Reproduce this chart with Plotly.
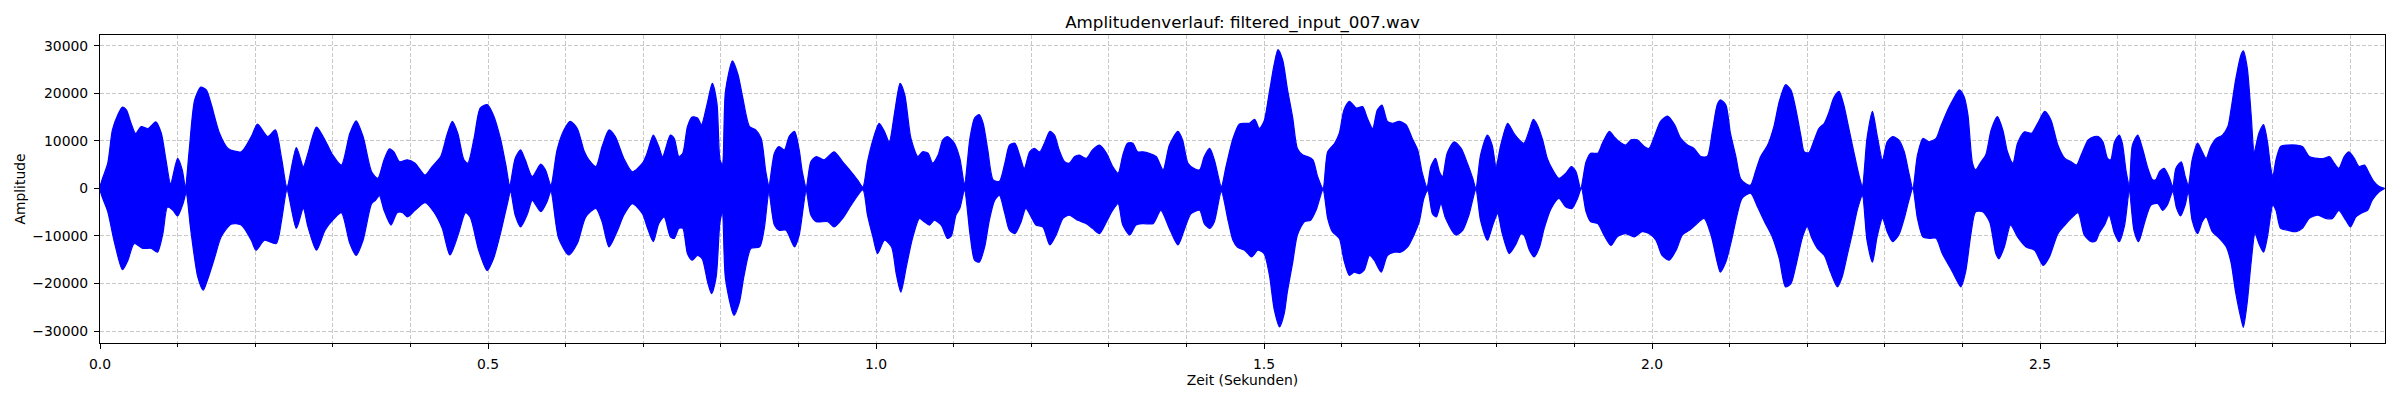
import plotly.graph_objects as go

# ---- Data (envelope of the waveform) ----
t_upper = [0.000, 0.010, 0.016, 0.023, 0.029, 0.034, 0.040, 0.046, 0.053, 0.062, 0.072, 0.079, 0.085, 0.091,
           0.100, 0.106, 0.110, 0.115, 0.122, 0.130, 0.137, 0.143, 0.154, 0.165, 0.182, 0.195, 0.203, 0.216,
           0.226, 0.234, 0.241, 0.253, 0.262, 0.268, 0.279, 0.292, 0.300, 0.311, 0.322, 0.330, 0.339, 0.350,
           0.358, 0.366, 0.373, 0.379, 0.386, 0.396, 0.406, 0.419, 0.428, 0.439, 0.447, 0.454, 0.461, 0.469,
           0.474, 0.482, 0.490, 0.499, 0.507, 0.516, 0.523, 0.528, 0.535, 0.542, 0.548, 0.557, 0.568, 0.574,
           0.581, 0.589, 0.598, 0.606, 0.615, 0.624, 0.630, 0.639, 0.647, 0.656, 0.664, 0.675, 0.686, 0.699,
           0.705, 0.713, 0.720, 0.725, 0.735, 0.740, 0.746, 0.751, 0.757, 0.763, 0.770, 0.775, 0.783, 0.789,
           0.795, 0.799, 0.802, 0.806, 0.815, 0.822, 0.828, 0.837, 0.845, 0.852, 0.858, 0.862, 0.869, 0.875,
           0.882, 0.888, 0.895, 0.901, 0.905, 0.910, 0.916, 0.923, 0.933, 0.946, 0.957, 0.968, 0.976, 0.983,
           0.989, 0.996, 1.004, 1.011, 1.017, 1.024, 1.031, 1.037, 1.045, 1.054, 1.060, 1.067, 1.073, 1.080,
           1.086, 1.092, 1.101, 1.108, 1.114, 1.121, 1.127, 1.133, 1.138, 1.144, 1.151, 1.159, 1.166, 1.172,
           1.179, 1.185, 1.191, 1.198, 1.204, 1.211, 1.217, 1.224, 1.230, 1.236, 1.243, 1.249, 1.256, 1.262,
           1.271, 1.279, 1.288, 1.297, 1.305, 1.312, 1.318, 1.324, 1.331, 1.337, 1.344, 1.352, 1.361, 1.370,
           1.378, 1.389, 1.395, 1.402, 1.410, 1.417, 1.423, 1.430, 1.436, 1.445, 1.451, 1.460, 1.468, 1.475,
           1.481, 1.488, 1.494, 1.500, 1.507, 1.513, 1.518, 1.524, 1.530, 1.537, 1.543, 1.550, 1.556, 1.563,
           1.569, 1.576, 1.582, 1.591, 1.597, 1.603, 1.610, 1.619, 1.627, 1.633, 1.640, 1.646, 1.652, 1.659,
           1.666, 1.674, 1.683, 1.691, 1.698, 1.704, 1.710, 1.715, 1.721, 1.726, 1.730, 1.736, 1.745, 1.754,
           1.762, 1.769, 1.773, 1.779, 1.788, 1.794, 1.799, 1.805, 1.814, 1.822, 1.829, 1.835, 1.842, 1.847,
           1.852, 1.859, 1.865, 1.872, 1.880, 1.889, 1.896, 1.902, 1.908, 1.915, 1.921, 1.930, 1.936, 1.945,
           1.951, 1.958, 1.966, 1.973, 1.981, 1.990, 1.996, 2.003, 2.011, 2.020, 2.029, 2.037, 2.046, 2.054,
           2.063, 2.071, 2.078, 2.084, 2.088, 2.095, 2.101, 2.108, 2.114, 2.121, 2.127, 2.134, 2.140, 2.149,
           2.157, 2.164, 2.172, 2.179, 2.185, 2.192, 2.196, 2.202, 2.209, 2.215, 2.222, 2.228, 2.234, 2.241,
           2.247, 2.254, 2.260, 2.267, 2.271, 2.277, 2.284, 2.290, 2.297, 2.303, 2.310, 2.318, 2.325, 2.331,
           2.336, 2.342, 2.349, 2.357, 2.366, 2.372, 2.381, 2.389, 2.396, 2.402, 2.407, 2.413, 2.417, 2.424,
           2.430, 2.437, 2.445, 2.452, 2.458, 2.465, 2.471, 2.480, 2.489, 2.497, 2.506, 2.514, 2.523, 2.532,
           2.540, 2.547, 2.553, 2.562, 2.570, 2.575, 2.581, 2.587, 2.591, 2.596, 2.602, 2.606, 2.611, 2.615,
           2.619, 2.626, 2.632, 2.639, 2.645, 2.649, 2.654, 2.660, 2.667, 2.671, 2.675, 2.682, 2.687, 2.691,
           2.696, 2.703, 2.709, 2.714, 2.720, 2.727, 2.735, 2.742, 2.746, 2.752, 2.759, 2.762, 2.767, 2.772,
           2.776, 2.782, 2.788, 2.793, 2.797, 2.800, 2.804, 2.810, 2.819, 2.830, 2.838, 2.847, 2.858, 2.866,
           2.873, 2.879, 2.885, 2.892, 2.898, 2.905, 2.911, 2.918, 2.924, 2.930, 2.937, 2.944]
amp_upper = [0, 5300, 12300, 15500, 17100, 16500, 13700, 11500, 13000, 12600, 14000, 11600, 6000, 1000,
             6300, 3900, 300, 8100, 18600, 21300, 20700, 17900, 11600, 8400, 7700, 10900, 13500, 10900,
             12300, 6300, 300, 8600, 4600, 7400, 12900, 9500, 7000, 4900, 11600, 14200, 10900, 3500,
             2100, 6000, 8300, 7600, 5600, 6000, 5300, 2800, 4600, 6700, 11200, 14100, 11600, 6000,
             5300, 10500, 16900, 17600, 15400, 10500, 4900, 700, 6300, 8100, 6000, 2500, 5100, 3900,
             700, 8100, 12300, 14100, 12600, 7800, 6000, 4600, 8800, 12300, 10900, 6300, 3500, 5300,
             7400, 11200, 8800, 6700, 11200, 10500, 6700, 7400, 13000, 15000, 14800, 13400, 18200, 22100,
             17900, 6000, 5000, 20400, 26800, 24000, 19300, 13000, 12300, 10500, 3500, 700, 7400, 8800,
             8100, 10900, 12000, 8100, 3500, 300, 5600, 6700, 6000, 7700, 5600, 3500, 1800, 300,
             5600, 10200, 13700, 11900, 9800, 16000, 22100, 19700, 10500, 6700, 7700, 7400, 5300, 7000,
             10200, 10900, 9500, 6300, 1000, 10500, 14800, 15500, 13700, 8100, 1800, 1500, 5300, 9100,
             9500, 7000, 4200, 7700, 8400, 7700, 9500, 12000, 11200, 8100, 5600, 5300, 6700, 7000,
             6300, 8100, 9100, 7400, 4600, 3200, 7000, 9500, 9500, 7700, 7700, 7400, 6700, 3900,
             9100, 12000, 10200, 5300, 4200, 3900, 6700, 8400, 6000, 400, 4600, 10500, 13500, 13700,
             13700, 14500, 12600, 14100, 20400, 26000, 29200, 27000, 21000, 14800, 8400, 7000, 6700, 6000,
             2500, 0, 7700, 9500, 11600, 16500, 18300, 16900, 17200, 14800, 12600, 16500, 17500, 14100,
             13700, 14100, 13400, 10500, 8100, 3200, 300, 4600, 6300, 3500, 2500, 7400, 9800, 8400,
             5300, 2100, 0, 7000, 11200, 9100, 4600, 9100, 13700, 11600, 10200, 9500, 12300, 14500,
             13400, 10200, 6300, 3900, 2100, 3200, 4600, 3500, 0, 5600, 7400, 7400, 9500, 12000,
             10900, 9800, 9100, 10200, 10200, 8800, 8400, 10900, 14100, 15200, 13400, 10500, 9100, 8400,
             6700, 6700, 12300, 17600, 18600, 17600, 11600, 6700, 2100, 1000, 700, 3900, 6700, 9100,
             13000, 18300, 21800, 20700, 16900, 10900, 7700, 7500, 10200, 12600, 13700, 16000, 19000, 20400,
             17600, 12300, 7700, 2500, 500, 10500, 16200, 11200, 6000, 9800, 10900, 10200, 7700, 3200,
             0, 7000, 10500, 9800, 10500, 13000, 16500, 19000, 20700, 19300, 15500, 5300, 3900, 5600,
             7000, 12300, 15100, 12300, 7700, 5300, 9500, 11900, 11600, 13700, 16200, 14400, 9100, 6300,
             5600, 4900, 7000, 10200, 10900, 10900, 9800, 6300, 6000, 9800, 11200, 9500, 3500, 700,
             9100, 11200, 8400, 4200, 1800, 1800, 3500, 4200, 2100, 300, 4200, 5600, 2500, 700,
             6000, 9500, 7700, 6300, 8800, 10500, 11200, 13000, 16500, 22800, 28100, 28900, 25300, 15500,
             7700, 11600, 13400, 9800, 4600, 2500, 6000, 8800, 9100, 9100, 8800, 6700, 6300, 6300,
             6700, 5300, 4200, 6700, 7700, 6300, 4600, 4900, 3200, 1500, 400, 0]

t_lower = [0.000, 0.010, 0.019, 0.029, 0.036, 0.044, 0.055, 0.066, 0.074, 0.081, 0.087, 0.094, 0.100, 0.107,
           0.111, 0.117, 0.126, 0.133, 0.139, 0.148, 0.156, 0.169, 0.182, 0.195, 0.201, 0.212, 0.227, 0.234,
           0.241, 0.253, 0.262, 0.268, 0.279, 0.290, 0.302, 0.311, 0.322, 0.330, 0.339, 0.350, 0.355, 0.360,
           0.366, 0.375, 0.383, 0.390, 0.396, 0.406, 0.419, 0.430, 0.441, 0.451, 0.462, 0.471, 0.477, 0.488,
           0.499, 0.507, 0.516, 0.525, 0.529, 0.535, 0.542, 0.551, 0.557, 0.568, 0.576, 0.581, 0.591, 0.604,
           0.615, 0.626, 0.639, 0.647, 0.656, 0.667, 0.675, 0.686, 0.699, 0.705, 0.713, 0.720, 0.727, 0.735,
           0.740, 0.746, 0.751, 0.757, 0.763, 0.770, 0.776, 0.783, 0.788, 0.794, 0.799, 0.802, 0.806, 0.817,
           0.824, 0.830, 0.839, 0.850, 0.856, 0.862, 0.869, 0.875, 0.884, 0.895, 0.901, 0.910, 0.916, 0.923,
           0.938, 0.946, 0.957, 0.968, 0.983, 0.989, 0.996, 1.002, 1.011, 1.020, 1.026, 1.032, 1.039, 1.047,
           1.056, 1.062, 1.069, 1.075, 1.084, 1.092, 1.097, 1.103, 1.108, 1.114, 1.121, 1.127, 1.133, 1.140,
           1.146, 1.153, 1.159, 1.166, 1.172, 1.179, 1.187, 1.193, 1.200, 1.206, 1.215, 1.224, 1.232, 1.241,
           1.249, 1.260, 1.271, 1.279, 1.288, 1.297, 1.305, 1.312, 1.318, 1.327, 1.335, 1.344, 1.357, 1.367,
           1.378, 1.389, 1.397, 1.406, 1.417, 1.423, 1.430, 1.436, 1.445, 1.454, 1.460, 1.466, 1.475, 1.484,
           1.492, 1.500, 1.507, 1.513, 1.520, 1.526, 1.530, 1.537, 1.543, 1.552, 1.560, 1.567, 1.576, 1.582,
           1.588, 1.597, 1.603, 1.610, 1.616, 1.623, 1.629, 1.636, 1.642, 1.651, 1.659, 1.668, 1.676, 1.685,
           1.694, 1.700, 1.706, 1.711, 1.717, 1.722, 1.728, 1.734, 1.747, 1.756, 1.764, 1.773, 1.779, 1.788,
           1.794, 1.801, 1.807, 1.816, 1.824, 1.831, 1.835, 1.842, 1.848, 1.855, 1.861, 1.870, 1.880, 1.889,
           1.897, 1.904, 1.909, 1.915, 1.921, 1.930, 1.938, 1.947, 1.955, 1.966, 1.977, 1.987, 1.996, 2.005,
           2.013, 2.022, 2.031, 2.039, 2.048, 2.056, 2.067, 2.076, 2.084, 2.088, 2.095, 2.103, 2.110, 2.116,
           2.127, 2.136, 2.145, 2.155, 2.164, 2.172, 2.179, 2.185, 2.194, 2.200, 2.206, 2.213, 2.222, 2.230,
           2.239, 2.245, 2.252, 2.258, 2.265, 2.271, 2.277, 2.284, 2.290, 2.297, 2.303, 2.310, 2.318, 2.325,
           2.331, 2.336, 2.342, 2.349, 2.357, 2.366, 2.374, 2.385, 2.394, 2.398, 2.404, 2.411, 2.417, 2.426,
           2.435, 2.443, 2.447, 2.454, 2.462, 2.471, 2.482, 2.493, 2.504, 2.512, 2.523, 2.532, 2.540, 2.549,
           2.557, 2.566, 2.572, 2.576, 2.583, 2.589, 2.596, 2.602, 2.609, 2.615, 2.621, 2.627, 2.635, 2.643,
           2.652, 2.658, 2.664, 2.671, 2.676, 2.681, 2.687, 2.691, 2.696, 2.703, 2.709, 2.714, 2.722, 2.731,
           2.740, 2.746, 2.752, 2.759, 2.762, 2.767, 2.772, 2.777, 2.782, 2.788, 2.793, 2.800, 2.804, 2.810,
           2.819, 2.830, 2.838, 2.847, 2.858, 2.868, 2.877, 2.885, 2.894, 2.900, 2.907, 2.915, 2.922, 2.928,
           2.937, 2.944]
amp_lower = [0, -4900, -11600, -17100, -15100, -11600, -12600, -12600, -13400, -9500, -3900, -4600, -5800, -3200,
             -1000, -8800, -18600, -21400, -19000, -14400, -10200, -7500, -7700, -10900, -13000, -10900, -11600, -6700,
             -400, -8400, -4200, -8100, -13000, -8800, -6300, -5100, -11600, -14100, -10900, -3200, -2500, -1500,
             -4600, -7700, -5100, -5100, -6000, -4600, -3000, -4900, -8400, -14000, -9500, -5100, -6000, -13000,
             -17300, -14800, -9500, -3200, -700, -5600, -8100, -5300, -2500, -4900, -2800, -700, -10500, -14000,
             -11600, -6000, -4200, -7000, -12300, -8800, -5600, -3200, -5300, -8100, -11200, -7400, -6000, -10200,
             -10500, -8400, -8400, -13700, -15100, -14100, -14800, -19700, -22100, -18600, -7000, -5300, -19000, -26700,
             -23900, -18300, -12600, -12300, -8400, -1000, -7700, -8800, -8800, -12300, -9800, -700, -5600, -7000,
             -7000, -8100, -6300, -3500, -300, -5600, -10200, -13700, -10900, -12300, -17900, -21800, -16500, -10500,
             -6300, -7000, -7700, -6700, -7700, -10500, -10000, -5600, -4200, -400, -9500, -15100, -15500, -12300,
             -6700, -2500, -1500, -5300, -8800, -9500, -7000, -4200, -6000, -7700, -8100, -11900, -9800, -6300,
             -5600, -6700, -7400, -8400, -9500, -7000, -4600, -3200, -7700, -9800, -7700, -7400, -7400, -4600,
             -8400, -11900, -8800, -5300, -4600, -7400, -8400, -7000, -700, -7000, -10900, -12400, -13000, -14400,
             -13000, -13700, -18300, -25300, -29100, -26300, -21800, -15500, -9800, -7000, -6700, -4600, -300, -6300,
             -9100, -10500, -15100, -18300, -17600, -17900, -17200, -14100, -15100, -17600, -14100, -13400, -13400, -12300,
             -9500, -7000, -2100, -500, -5300, -6000, -3200, -6300, -9800, -8800, -5600, -300, -6700, -10900,
             -8100, -5300, -9500, -13700, -11900, -9600, -9800, -13000, -14400, -12300, -8400, -4200, -2100, -3900,
             -4200, -2100, 0, -4900, -7000, -7400, -9800, -12000, -10200, -9500, -10200, -9100, -9500, -10900,
             -14100, -15100, -13000, -9800, -8800, -7700, -6300, -9800, -15500, -17600, -15500, -10500, -5300, -2100,
             -1000, -3900, -7000, -10200, -14800, -20700, -20000, -16500, -10200, -8000, -10500, -12600, -14100, -17600,
             -20700, -18600, -13700, -9500, -4200, -1500, -10900, -15500, -10200, -6300, -9100, -11200, -9800, -6300,
             -2500, 0, -6300, -10200, -10500, -10500, -13700, -16900, -19700, -20700, -17600, -9500, -4900, -4900,
             -7000, -13700, -14800, -12300, -7700, -10200, -12300, -13000, -16200, -14400, -9500, -7700, -6300, -5100,
             -9800, -11200, -11000, -9500, -7700, -5600, -9500, -11200, -7700, -700, -8800, -11200, -7000, -3500,
             -3200, -4600, -3500, -700, -4200, -5800, -3500, -700, -6700, -9500, -7000, -6000, -9100, -10500,
             -12300, -15500, -21800, -27400, -29200, -23900, -15500, -9500, -11600, -13400, -10200, -3500, -4600, -8400,
             -8800, -9100, -8400, -6300, -5600, -6300, -6300, -4600, -6700, -8100, -6000, -5100, -4600, -2500,
             -700, 0]

x_tick_vals = [0.0, 0.5, 1.0, 1.5, 2.0, 2.5]
x_tick_text = ["0.0", "0.5", "1.0", "1.5", "2.0", "2.5"]
y_tick_vals = [-30000, -20000, -10000, 0, 10000, 20000, 30000]
y_tick_text = ["\u221230000", "\u221220000", "\u221210000", "0", "10000", "20000", "30000"]

title_text = "Amplitudenverlauf: filtered_input_007.wav"
x_label = "Zeit (Sekunden)"
y_label = "Amplitude"

# ---- Figure ----
poly_x = t_upper + t_lower[::-1]
poly_y = amp_upper + amp_lower[::-1]

fig = go.Figure()
fig.add_trace(go.Scatter(
    x=poly_x, y=poly_y, mode="lines", fill="toself",
    fillcolor="#0000ff", line=dict(color="#0000ff", width=1.2, shape="spline", smoothing=0.7),
    hoverinfo="skip", showlegend=False,
))

FONT = "DejaVu Sans"
grid_col = "#c8c8c8"

fig.update_layout(
    template="none",
    width=2400, height=400,
    margin=dict(l=100, r=15, t=35, b=57, autoexpand=False),
    paper_bgcolor="white", plot_bgcolor="white",
    font=dict(family=FONT, size=13.9, color="black"),
    title=dict(text=title_text, x=0.5, xref="paper", xanchor="center",
               y=1 - 22 / 400, yref="container", yanchor="middle",
               font=dict(family=FONT, size=16.7, color="black")),
    showlegend=False,
)

fig.update_xaxes(
    automargin=False,
    range=[0, 2.9445], tickmode="array", tickvals=x_tick_vals, ticktext=x_tick_text,
    ticks="outside", ticklen=5, tickwidth=1.1, tickcolor="black",
    showline=True, linecolor="black", linewidth=1.1, mirror=True,
    showgrid=True, gridcolor=grid_col, griddash="4px,2px", gridwidth=1.1,
    zeroline=False,
    minor=dict(tickmode="linear", tick0=0, dtick=0.1, ticks="outside", ticklen=3,
               tickwidth=0.8, tickcolor="black", showgrid=True, gridcolor=grid_col,
               griddash="4px,2px", gridwidth=1.1),
    title=dict(text=x_label, font=dict(family=FONT, size=13.9, color="black"), standoff=1),
    tickfont=dict(family=FONT, size=13.9, color="black"),
    ticklabelstandoff=3,
)
fig.update_yaxes(
    automargin=False,
    range=[-32500, 32250], tickmode="array", tickvals=y_tick_vals, ticktext=y_tick_text,
    ticks="outside", ticklen=5, tickwidth=1.1, tickcolor="black",
    showline=True, linecolor="black", linewidth=1.1, mirror=True,
    showgrid=True, gridcolor=grid_col, griddash="4px,2px", gridwidth=1.1,
    zeroline=False,
    title=dict(text=y_label, font=dict(family=FONT, size=13.9, color="black"), standoff=3),
    tickfont=dict(family=FONT, size=13.9, color="black"),
    ticklabelstandoff=3,
)

fig.write_html("out.html", config={"displayModeBar": False},
               post_script="document.body.style.margin='0';")
